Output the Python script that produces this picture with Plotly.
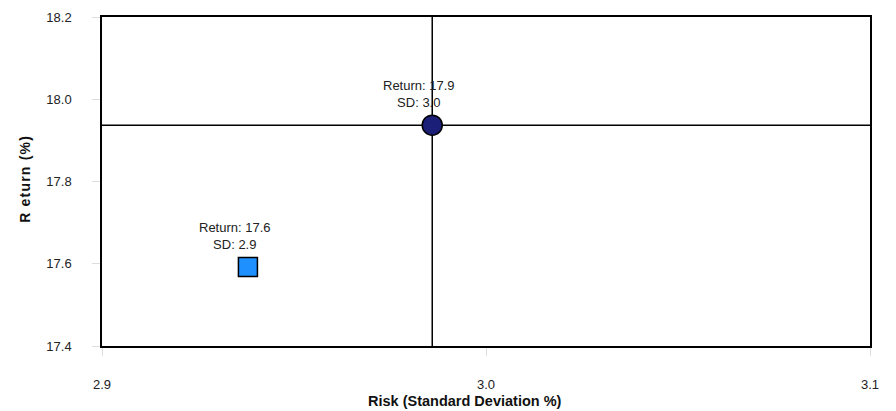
import plotly.graph_objects as go

# ─── Data ─────────────────────────────────────────────────────────────────────
names = ['Portfolio', 'Benchmark']
risk = [2.986, 2.938]
ret = [17.937, 17.592]
symbols = ['circle', 'square']
colors = ['#1B1F78', '#1E90FF']
labels = ['Return: 17.9<br>SD: 3.0', 'Return: 17.6<br>SD: 2.9']

x_ticks = [2.9, 3.0, 3.1]
y_ticks = [17.4, 17.6, 17.8, 18.0, 18.2]

FONT = 'Liberation Sans, Arial, sans-serif'

fig = go.Figure()

# crosshair through the first point
fig.add_vline(x=risk[0], line=dict(color='black', width=1.5), layer='below')
fig.add_hline(y=ret[0], line=dict(color='black', width=1.5), layer='below')

for i in range(len(names)):
    fig.add_trace(go.Scatter(
        x=[risk[i]], y=[ret[i]],
        mode='markers',
        name=names[i],
        marker=dict(symbol=symbols[i], color=colors[i],
                    size=20 if symbols[i] == 'circle' else 19,
                    line=dict(color='black', width=1.5)),
        showlegend=False,
    ))
    fig.add_annotation(
        x=risk[i], y=ret[i], text=labels[i], showarrow=False,
        yanchor='bottom', xshift=-13, yshift=13,
        font=dict(size=13, color='#222', family=FONT),
    )

# axis titles as annotations (reference has them slightly off-centre)
fig.add_annotation(
    xref='paper', yref='paper', x=0.4727, y=-0.167,
    text='<b>Risk (Standard Deviation %)</b>', showarrow=False,
    xanchor='center', yanchor='middle',
    font=dict(size=14.5, color='#111', family=FONT),
)
fig.add_annotation(
    xref='paper', yref='paper', x=-0.1003, y=0.508,
    text='<b><span style="letter-spacing:1.2px">R eturn (%)</span></b>',
    showarrow=False, textangle=-90,
    xanchor='center', yanchor='middle',
    font=dict(size=14, color='#111', family=FONT),
)

axis_common = dict(
    showgrid=False, zeroline=False, automargin=False,
    showline=True, linecolor='black', linewidth=1.5, mirror=True,
    ticks='outside', ticklen=8, tickcolor='#DDDDDD', tickwidth=1,
    tickfont=dict(size=13, color='#222', family=FONT),
    ticklabelstandoff=18,
)

# page body has an 8px margin, so the figure is sized/offset for that
fig.update_layout(
    width=888, height=403,
    paper_bgcolor='white', plot_bgcolor='white',
    margin=dict(l=94, r=26, t=9, b=65),
    font=dict(family=FONT),
    xaxis=dict(range=[2.9, 3.1], tickvals=x_ticks, tickformat='.1f', **axis_common),
    yaxis=dict(range=[17.4, 18.2], tickvals=y_ticks, tickformat='.1f', **axis_common),
)

fig.write_html('out.html')
